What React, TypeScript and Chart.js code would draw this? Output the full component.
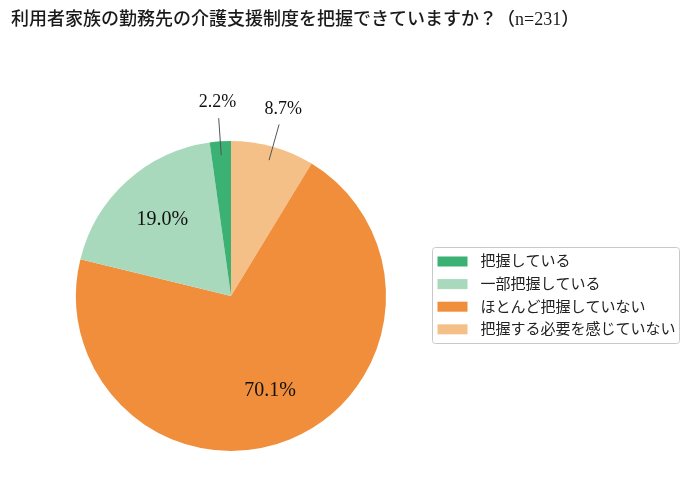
import { useEffect, useRef } from "react";
import Chart from "chart.js/auto";

const titleText = "利用者家族の勤務先の介護支援制度を把握できていますか？（n=231）";

// legend order (top to bottom)
const categories = ["把握している", "一部把握している", "ほとんど把握していない", "把握する必要を感じていない"];
const shares = [2.2, 19.0, 70.1, 8.7];
const colors = ["#3bb273", "#a9d9bd", "#f18e3c", "#f5c088"];

// pie is drawn clockwise from the top, starting with the last category
const drawOrder = [3, 2, 1, 0];

const FONT = "'Liberation Serif', 'Noto Sans CJK JP', serif";

const labelPlugin = {
  id: "sliceLabels",
  afterDatasetsDraw(chart: any) {
    const { ctx } = chart;
    const meta = chart.getDatasetMeta(0);
    ctx.save();
    ctx.fillStyle = "#111";
    ctx.textAlign = "center";
    ctx.textBaseline = "middle";
    meta.data.forEach((arc: any, i: number) => {
      const value = chart.data.datasets[0].data[i] as number;
      const { x, y, startAngle, endAngle, outerRadius } = arc.getProps(
        ["x", "y", "startAngle", "endAngle", "outerRadius"],
        true
      );
      const mid = (startAngle + endAngle) / 2;
      const cos = Math.cos(mid);
      const sin = Math.sin(mid);
      const text = `${value.toFixed(1)}%`;
      if (value < 10) {
        ctx.strokeStyle = "#555";
        ctx.lineWidth = 1;
        ctx.beginPath();
        ctx.moveTo(x + cos * outerRadius * 0.91, y + sin * outerRadius * 0.91);
        ctx.lineTo(x + cos * outerRadius * 1.15, y + sin * outerRadius * 1.15);
        ctx.stroke();
        ctx.font = `18px ${FONT}`;
        ctx.fillText(text, x + cos * outerRadius * 1.25, y + sin * outerRadius * 1.25);
      } else {
        ctx.font = `20px ${FONT}`;
        ctx.fillText(text, x + cos * outerRadius * 0.66, y + sin * outerRadius * 0.66);
      }
    });
    ctx.restore();
  },
};

const titleLegendPlugin = {
  id: "titleAndLegend",
  afterDraw(chart: any) {
    const { ctx } = chart;
    ctx.save();
    ctx.font = `500 18px ${FONT}`;
    ctx.fillStyle = "#1a1a1a";
    ctx.textAlign = "left";
    ctx.textBaseline = "middle";
    ctx.fillText(titleText, 11, 20);

    const left = 432.5;
    const top = 247.5;
    const w = 247;
    const h = 96;
    ctx.strokeStyle = "#c8c8c8";
    ctx.lineWidth = 1;
    ctx.beginPath();
    ctx.roundRect(left, top, w, h, 3);
    ctx.stroke();
    ctx.font = `15px ${FONT}`;
    categories.forEach((name, i) => {
      const cy = top + 14 + i * 22.6;
      ctx.fillStyle = colors[i];
      ctx.fillRect(left + 5, cy - 5, 30, 10);
      ctx.fillStyle = "#222";
      ctx.fillText(name, left + 48, cy + 1);
    });
    ctx.restore();
  },
};

const PieChart = () => {
  const canvasRef = useRef<HTMLCanvasElement | null>(null);
  const chartRef = useRef<Chart | null>(null);

  useEffect(() => {
    if (!canvasRef.current) return;
    const ctx = canvasRef.current.getContext("2d");
    if (!ctx) return;

    if (chartRef.current) {
      chartRef.current.destroy();
    }

    chartRef.current = new Chart(ctx, {
      type: "pie",
      data: {
        labels: drawOrder.map((i) => categories[i]),
        datasets: [
          {
            data: drawOrder.map((i) => shares[i]),
            backgroundColor: drawOrder.map((i) => colors[i]),
            borderWidth: 0,
          },
        ],
      },
      options: {
        animation: false,
        responsive: true,
        maintainAspectRatio: false,
        radius: 155,
        layout: {
          padding: { left: 8, right: 235, top: 92, bottom: 0 },
        },
        plugins: {
          legend: { display: false },
          tooltip: { enabled: false },
          title: { display: false },
        },
      },
      plugins: [labelPlugin, titleLegendPlugin],
    });

    return () => {
      if (chartRef.current) {
        chartRef.current.destroy();
        chartRef.current = null;
      }
    };
  }, []);

  return (
    <div style={{ position: "fixed", left: 0, top: 0, width: 689, height: 500, background: "#fff" }}>
      <canvas ref={canvasRef} />
    </div>
  );
};

export default function App() {
  return <PieChart />;
}
